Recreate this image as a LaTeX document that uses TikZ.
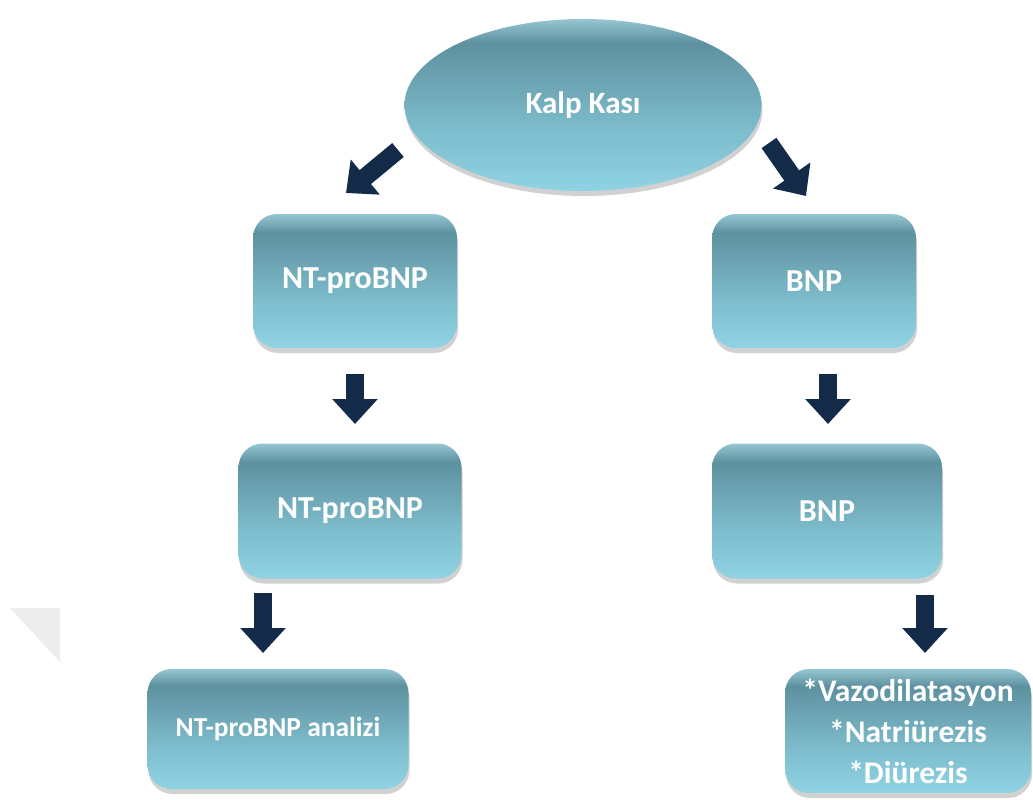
\documentclass[tikz,border=0pt]{standalone}
\usepackage{fontspec}
\setmainfont{Carlito}
\usetikzlibrary{arrows.meta,shadows,shapes.geometric}
\definecolor{arrowc}{HTML}{132A49}
\definecolor{sa}{HTML}{8FD3E4}
\definecolor{sb}{HTML}{7EBECE}
\definecolor{sc}{HTML}{6BA2B1}
\definecolor{sd}{HTML}{5D91A0}
\definecolor{se}{HTML}{96C6D2}
\pgfdeclareverticalshading{tealsh}{100bp}{color(0bp)=(sa); color(25bp)=(sa); color(42bp)=(sb); color(58bp)=(sc); color(68bp)=(sd); color(75bp)=(se); color(100bp)=(se)}
\tikzset{
  tealbox/.style={rectangle, rounded corners=24pt, shading=tealsh, draw=none,
    drop shadow={opacity=0.3, shadow xshift=1pt, shadow yshift=-5pt, fill=black!60},
    text=white, font=\bfseries\fontsize{32}{41}\selectfont, align=center, inner sep=0pt},
  tealell/.style={ellipse, shading=tealsh, draw=none,
    drop shadow={opacity=0.3, shadow xshift=1pt, shadow yshift=-5pt, fill=black!60},
    text=white, font=\bfseries\fontsize{31}{36}\selectfont, inner sep=0pt},
  blockarrow/.style={draw=arrowc, line width=18pt, -{Triangle[length=25pt,width=44pt]}}
}
\begin{document}
\begin{tikzpicture}[x=1pt,y=-1pt]
\useasboundingbox (0,0) rectangle (1033,800);
\fill[gray!14] (10,608) -- (60,608) -- (60,662) -- cycle;
\node[tealell, minimum width=357pt, minimum height=172pt] (kalp) at (583,105) {Kalp Kası};
\node[tealbox, minimum width=204pt, minimum height=134pt] (ntp1) at (355,281) {NT-proBNP};
\node[tealbox, minimum width=204pt, minimum height=134pt] (bnp1) at (814,281) {BNP};
\node[tealbox, minimum width=223pt, minimum height=135pt] (ntp2) at (350,511) {NT-proBNP};
\node[tealbox, minimum width=230pt, minimum height=135pt] (bnp2) at (827,511) {BNP};
\node[tealbox, minimum width=261pt, minimum height=120pt, font=\bfseries\fontsize{27.5}{36}\selectfont] (ana) at (278,729) {NT-proBNP analizi};
\node[tealbox, minimum width=246pt, minimum height=124pt, font=\bfseries\fontsize{31.5}{41}\selectfont] (eff) at (908,731) {*Vazodilatasyon\\*Natriürezis\\*Diürezis};
\coordinate (a1s) at (398,150); \coordinate (a1e) at (346,193);
\coordinate (a2s) at (769,143); \coordinate (a2e) at (806,196);
\coordinate (a3s) at (355,374); \coordinate (a3e) at (355,424);
\coordinate (a4s) at (828,374); \coordinate (a4e) at (828,424);
\coordinate (a5s) at (263,593); \coordinate (a5e) at (263,653);
\coordinate (a6s) at (925,595); \coordinate (a6e) at (925,653);
\draw[blockarrow] (a1s) -- (a1e);
\draw[blockarrow] (a2s) -- (a2e);
\draw[blockarrow] (a3s) -- (a3e);
\draw[blockarrow] (a4s) -- (a4e);
\draw[blockarrow] (a5s) -- (a5e);
\draw[blockarrow] (a6s) -- (a6e);
\end{tikzpicture}
\end{document}
